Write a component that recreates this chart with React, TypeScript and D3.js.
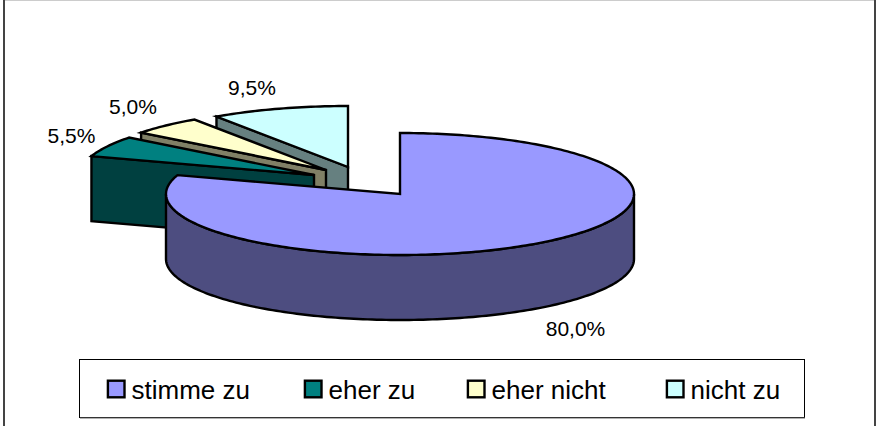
import React from "react";
import * as d3 from "d3";

const categories = ["stimme zu", "eher zu", "eher nicht", "nicht zu"];
const values = [80.0, 5.5, 5.0, 9.5];
const valueLabels = ["80,0%", "5,5%", "5,0%", "9,5%"];
const topColors = ["#9999ff", "#008080", "#ffffcc", "#ccffff"];
const sideColors = ["#4d4d80", "#004040", "#808066", "#668080"];
const apexX = [400, 314, 326, 348];
const apexY = [194, 175, 170, 167];
const labelX = [575.5, 71.5, 133, 252];
const labelY = [336, 142.5, 113.5, 95];
const legendX = [107, 304, 467, 666];

const RX = 234, RY = 61, DEPTH = 65;

const pieGen = d3.pie<number>().sort(null).value((d) => d);
const arcs = pieGen(values);

function pt(i: number, a: number, dy = 0): [number, number] {
  return [apexX[i] + RX * Math.sin(a), apexY[i] - RY * Math.cos(a) + dy];
}
function samples(a0: number, a1: number): number[] {
  const n = Math.max(2, Math.ceil(Math.abs(a1 - a0) / 0.02));
  return d3.range(n + 1).map((k) => a0 + ((a1 - a0) * k) / n);
}
const lineGen = d3.line();
function closed(points: [number, number][]): string {
  return lineGen(points) + "Z";
}
function topPath(i: number): string {
  const { startAngle: s, endAngle: e } = arcs[i];
  return closed([[apexX[i], apexY[i]], ...samples(s, e).map((a) => pt(i, a))]);
}
function radialFace(i: number, a: number): string {
  const x = apexX[i], y = apexY[i];
  return closed([[x, y], pt(i, a), pt(i, a, DEPTH), [x, y + DEPTH]]);
}
function wallPath(i: number): string {
  const { startAngle: s, endAngle: e } = arcs[i];
  const lo = Math.max(s, Math.PI / 2);
  const hi = Math.min(e, (3 * Math.PI) / 2);
  if (hi <= lo) return "";
  const as = samples(lo, hi);
  return closed([...as.map((a) => pt(i, a)), ...as.slice().reverse().map((a) => pt(i, a, DEPTH))]);
}

const stroke = { stroke: "#000", strokeWidth: 2.4, strokeLinejoin: "miter" as const };
const font = "'Liberation Sans', Arial, sans-serif";
const drawOrder = [3, 2, 1, 0];

export default function App() {
  return (
    <svg
      width={881}
      height={426}
      style={{ position: "fixed", left: 0, top: 0, display: "block", background: "#fff" }}
      fontFamily={font}
    >
      <rect x={4} y={0.5} width={871} height={440} fill="#fff" stroke="#ccc" strokeWidth={1} />
      <path d="M4 0V426M875 0V426" fill="none" stroke="#444" strokeWidth={2} />
      {drawOrder.map((i) => (
        <g key={categories[i]}>
          {i !== 0 && <path d={radialFace(i, arcs[i].startAngle)} fill={sideColors[i]} {...stroke} />}
          <path d={wallPath(i)} fill={sideColors[i]} {...stroke} />
          <path d={topPath(i)} fill={topColors[i]} {...stroke} />
        </g>
      ))}
      {valueLabels.map((t, i) => (
        <text key={t} x={labelX[i]} y={labelY[i]} fontSize={21} textAnchor="middle" fill="#000">
          {t}
        </text>
      ))}
      <rect x={79.5} y={359.5} width={725} height={58} fill="#fff" stroke="#000" strokeWidth={1} />
      <path d="M80 418H805" stroke="#666" strokeWidth={1} />
      {categories.map((c, i) => (
        <g key={c}>
          <rect x={legendX[i] + 0.9} y={380.7} width={16.6} height={16.6} fill={topColors[i]} stroke="#000" strokeWidth={2.4} />
          <text x={legendX[i] + 24.5} y={398.5} fontSize={26} fill="#000">
            {c}
          </text>
        </g>
      ))}
    </svg>
  );
}
